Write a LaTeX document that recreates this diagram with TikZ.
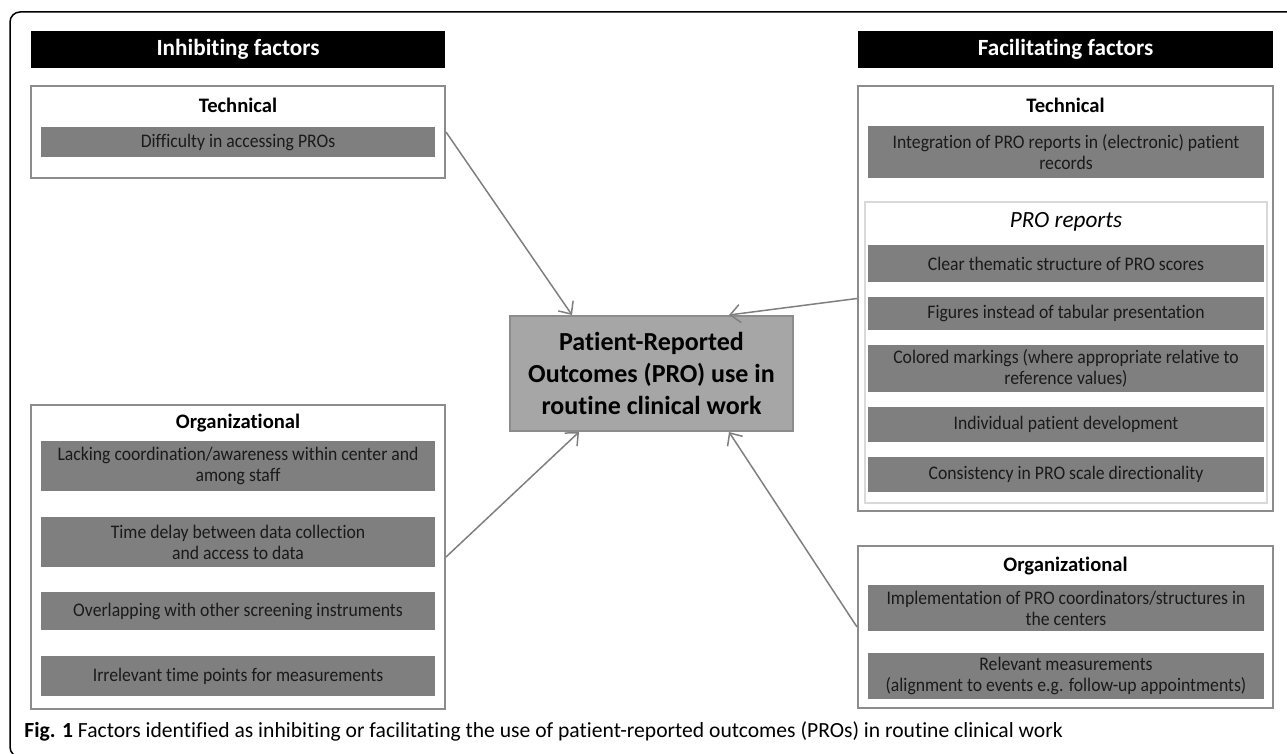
\documentclass[tikz,border=0pt]{standalone}
\usepackage{fontspec}
\setmainfont{Carlito}[Ligatures=NoCommon]
\newfontfamily\barfont{Carlito}[Ligatures=NoCommon,FakeStretch=0.92]
\usetikzlibrary{arrows.meta}
\definecolor{bargray}{HTML}{7F7F7F}
\definecolor{edgegray}{HTML}{8C8C8C}
\definecolor{coregray}{HTML}{A6A6A6}
\definecolor{innergray}{HTML}{D9D9D9}
\definecolor{bartext}{HTML}{1A1A1A}

\begin{document}
\begin{tikzpicture}[x=0.5pt,y=-0.5pt,
  header/.style={fill=black,text=white,font=\fontsize{11.6}{14}\selectfont\bfseries,
    minimum height=18.5pt,inner sep=0pt},
  group/.style={draw=edgegray,line width=1pt,inner sep=0pt},
  title/.style={font=\fontsize{10.3}{12}\selectfont\bfseries},
  bar/.style={fill=bargray,text=bartext,font=\barfont\fontsize{9.6}{10.5}\selectfont,
    align=center,inner sep=0pt},
  link/.style={draw=bargray,line width=0.75pt,-{Straight Barb[length=5pt,width=9pt]}}]
\useasboundingbox (0,0) rectangle (1287,754);

% outer frame
\begin{scope}
\clip (0,0) rectangle (1287,754);
\draw[line width=0.75pt,rounded corners=5pt] (10,12) rectangle (1310,757);
\end{scope}

% Inhibiting factors
\node[header,minimum width=207pt] (inhib) at (238,49.5) {Inhibiting factors};
\node[group,minimum width=207pt,minimum height=46pt] (inhtech) at (238,132) {};
\node[title] (inhtechtitle) at (238,105) {Technical};
\node[bar,minimum width=197pt,minimum height=15pt] (inhtech1) at (238,142) {Difficulty in accessing PROs};

\node[group,minimum width=207pt,minimum height=152pt] (inhorg) at (238,557) {};
\node[title] (inhorgtitle) at (238,423) {Organizational};
\foreach \yy/\hh/\txt [count=\i] in {
    466/25pt/{Lacking coordination/awareness within center and\\among staff},
    542/25pt/{Time delay between data collection\\and access to data},
    611/19pt/{Overlapping with other screening instruments},
    676/20pt/{Irrelevant time points for measurements}} {
  \node[bar,minimum width=197pt,minimum height=\hh] (inhorg\i) at (238,\yy) {\txt};
}

% Facilitating factors
\node[header,minimum width=207.5pt] (facil) at (1065.5,49.5) {Facilitating factors};
\node[group,minimum width=207.5pt,minimum height=212.5pt] (factech) at (1065.5,298.5) {};
\node[title] (factechtitle) at (1065.5,105) {Technical};
\node[bar,minimum width=198pt,minimum height=26pt] (factech1) at (1066,152)
  {Integration of PRO reports in (electronic) patient\\records};
\node[draw=innergray,line width=1pt,minimum width=201pt,minimum height=150.5pt,inner sep=0pt]
  (reports) at (1066,352.5) {};
\node[font=\fontsize{11.6}{13}\selectfont\itshape] (reportstitle) at (1066,222) {PRO reports};
\foreach \yy/\hh/\txt [count=\i] in {
    263.5/18.5pt/{Clear thematic structure of PRO scores},
    313.5/16.5pt/{Figures instead of tabular presentation},
    368.5/23.5pt/{Colored markings (where appropriate relative to\\reference values)},
    424.5/17.5pt/{Individual patient development},
    474.5/17.5pt/{Consistency in PRO scale directionality}} {
  \node[bar,minimum width=198pt,minimum height=\hh] (reports\i) at (1066,\yy) {\txt};
}

\node[group,minimum width=207.5pt,minimum height=81pt] (facorg) at (1065.5,627) {};
\node[title] (facorgtitle) at (1065.5,566) {Organizational};
\foreach \yy/\hh/\txt [count=\i] in {
    608/23pt/{Implementation of PRO coordinators/structures in\\the centers},
    676/23pt/{Relevant measurements\\(alignment to events e.g. follow-up appointments)}} {
  \node[bar,minimum width=198pt,minimum height=\hh] (facorg\i) at (1066,\yy) {\txt};
}

% centre
\node[fill=coregray,draw=edgegray,line width=1pt,minimum width=141.5pt,minimum height=57.5pt,
  inner sep=0pt,align=center,font=\fontsize{13}{15.8}\selectfont\bfseries] (pro) at (651.5,373.5)
  {Patient-Reported\\Outcomes (PRO) use in\\routine clinical work};

\draw[link] (inhtech.east) -- ([xshift=31.5pt]pro.north west);
\draw[link] (factech.west) -- ([xshift=110pt]pro.north west);
\draw[link] (inhorg.east) -- ([xshift=35pt]pro.south west);
\draw[link] (facorg.west) -- ([xshift=110pt]pro.south west);

% caption
\node[anchor=west,inner sep=0pt,font=\fontsize{10.8}{13}\selectfont] (caption) at (24,731)
  {\textbf{Fig. 1} Factors identified as inhibiting or facilitating the use of patient-reported outcomes (PROs) in routine clinical work};
\end{tikzpicture}
\end{document}
